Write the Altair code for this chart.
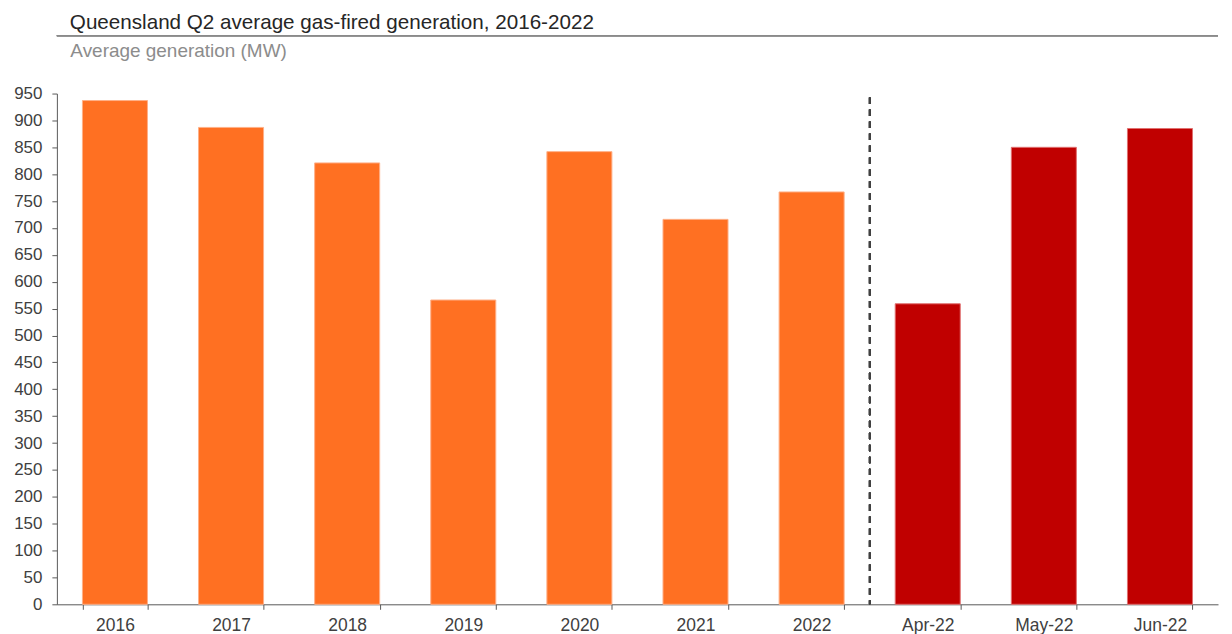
import altair as alt
import pandas as pd

# ---- data ----
categories = ["2016", "2017", "2018", "2019", "2020", "2021", "2022",
              "Apr-22", "May-22", "Jun-22"]
values = [937, 887, 821, 566, 842, 716, 767, 559, 850, 885]
groups = ["Q2", "Q2", "Q2", "Q2", "Q2", "Q2", "Q2",
          "Month", "Month", "Month"]
y_ticks = [0, 50, 100, 150, 200, 250, 300, 350, 400, 450, 500,
           550, 600, 650, 700, 750, 800, 850, 900, 950]

title_text = "Queensland Q2 average gas-fired generation, 2016-2022"
subtitle_text = "Average generation (MW)"

df = pd.DataFrame({"cat": categories, "value": values, "group": groups})

FONT = "Liberation Sans"
W, H = 1164, 512
P_IN = 0.44

x_scale = alt.Scale(domain=categories, paddingInner=P_IN, paddingOuter=P_IN / 2)
y_scale = alt.Scale(domain=[0, 950], nice=False)

bars = alt.Chart(df).mark_bar(strokeWidth=1).encode(
    x=alt.X("cat:N", scale=x_scale, sort=categories,
            axis=alt.Axis(title=None, labelAngle=0, tickBand="extent",
                          labelFontSize=17.5, labelFont=FONT, labelColor="#404040",
                          labelPadding=7, tickSize=5, tickColor="#595959",
                          domainColor="#595959", labelBaseline="top")),
    y=alt.Y("value:Q", scale=y_scale,
            axis=alt.Axis(values=y_ticks, grid=False, title=subtitle_text,
                          titleAngle=0, titleAlign="left", titleBaseline="alphabetic",
                          titleX=13, titleY=-37, titleFontSize=19, titleFont=FONT,
                          titleFontWeight="normal", titleColor="#8c8c8c",
                          labelFontSize=17, labelFont=FONT, labelColor="#404040",
                          labelPadding=10, tickSize=5, tickColor="#595959",
                          domainColor="#595959")),
    color=alt.Color("group:N",
                    scale=alt.Scale(domain=["Q2", "Month"], range=["#FF7022", "#C00000"]),
                    legend=None),
    stroke=alt.Stroke("group:N",
                      scale=alt.Scale(domain=["Q2", "Month"], range=["#FFB088", "#E07070"]),
                      legend=None),
)

divider = alt.Chart(df).mark_rule(
    strokeDash=[6.5, 5.5], color="#404040", strokeWidth=1.5, xOffset=-(W / 10) * P_IN / 2
).encode(
    x=alt.X(datum="Apr-22", bandPosition=0, scale=x_scale),
    y=alt.value(4),
    y2=alt.value(H),
)

title_line = alt.Chart(df).mark_rule(color="#8a8a8a", strokeWidth=1).encode(
    x=alt.value(0), x2=alt.value(W), y=alt.value(-58)
)

chart = alt.layer(bars, divider, title_line).properties(
    width=W, height=H,
    title=alt.TitleParams(title_text, anchor="start", frame="group", dx=13,
                          fontSize=20.7, font=FONT, fontWeight="normal",
                          color="#262626", offset=2),
    padding={"left": 5, "top": 2, "right": 5, "bottom": 0},
).configure_view(stroke=None)

chart.save("out.html", embed_options={"renderer": "svg", "actions": False})
